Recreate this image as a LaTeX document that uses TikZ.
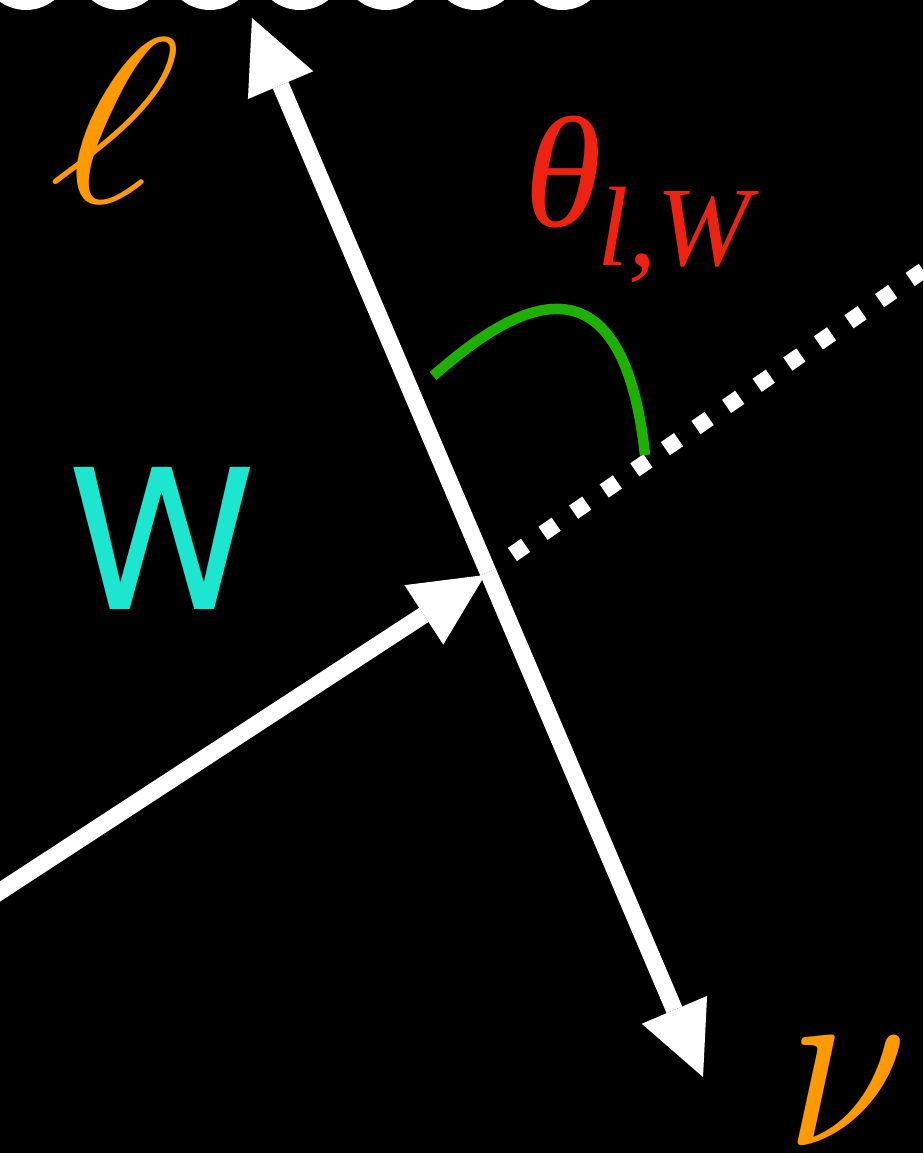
\documentclass[tikz,border=0pt]{standalone}
\usepackage{fontspec}
\newfontfamily\helv{TeX Gyre Heros}
\newfontfamily\tms{Liberation Serif}
\usetikzlibrary{arrows.meta}
\definecolor{lorange}{RGB}{255,153,0}
\definecolor{wcyan}{RGB}{28,229,208}
\definecolor{thred}{RGB}{238,34,17}
\definecolor{arcgreen}{RGB}{30,176,0}
\tikzset{
  vec/.style={draw=white, line width=17pt, -{Triangle[length=73pt,width=71pt,line width=0pt]}},
  dotline/.style={draw=white, line width=16pt, dash pattern=on 16pt off 21.2pt},
  anglearc/.style={draw=arcgreen, line width=10.5pt},
  blob/.style={fill=white},
  lbl/.style={inner sep=0pt, outer sep=0pt},
}
\begin{document}
\begin{tikzpicture}[x=1pt,y=-1pt]
\fill[black] (0,0) rectangle (923,1153);
\useasboundingbox (0,0) rectangle (923,1153);
\clip (0,0) rectangle (923,1153);

% top row of loops (cut off)
\foreach \cx in {26,120,210,300,386,476,562}
  \fill[blob] (\cx,-35) circle (45);

% coordinates
\coordinate (c) at (488,572);
\coordinate (ltip) at (252,18);
\coordinate (nutip) at (703,1077);
\coordinate (wtail) at (-30,911);
\coordinate (wtip) at (485,575);
\coordinate (dstart) at (512.4,554.5);
\coordinate (dend) at (960,245);
\coordinate (a0) at (433,376);
\coordinate (a1) at (645,455);

% dotted W axis
\draw[dotline] (dstart) -- (dend);
% angle arc
\draw[anglearc] (a0) .. controls (495,322) and (620,225) .. (a1);
% vectors
\draw[vec] (wtail) -- (wtip);
\draw[vec] (c) -- (ltip);
\draw[vec] (c) -- (nutip);

% labels
\node[lbl, text=lorange, scale=23.5, xslant=0.18, xscale=1.1] (ell) at (115,121) {$\ell$};
\node[lbl, text=wcyan, scale=19.5, font=\helv] (wlabel) at (161.5,538) {W};
\node[lbl, text=lorange, scale=25, xscale=0.87] (nu) at (847,1092) {$\nu$};
\node[lbl, text=thred, scale=15.8, font=\tms\itshape, anchor=base west] (theta) at (524,226) {θ};
\node[lbl, text=thred, scale=11.3, font=\tms\itshape, anchor=base west] (thetasub) at (597,265) {l,W};
\end{tikzpicture}
\end{document}
